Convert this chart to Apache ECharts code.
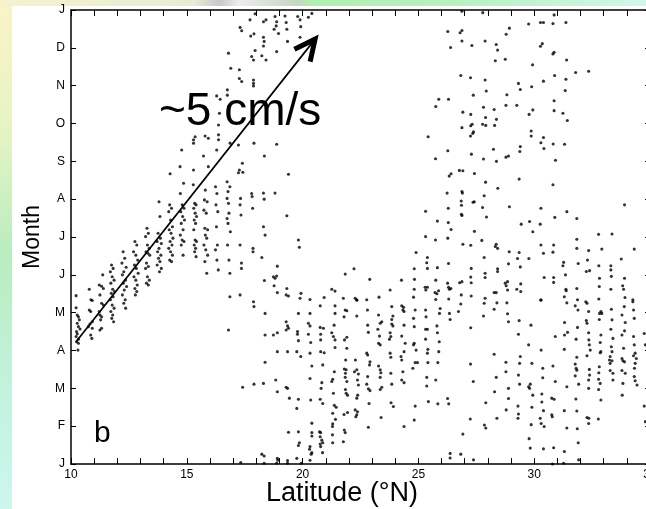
<!DOCTYPE html>
<html>
<head>
<meta charset="utf-8">
<script src="https://cdn.jsdelivr.net/npm/echarts@6/dist/echarts.min.js"></script>
<style>
  html, body { margin: 0; padding: 0; background: #fff; }
  #chart { width: 646px; height: 509px; }
</style>
</head>
<body>
<div id="chart"></div>
<script>
// Month tick labels (0 = 1 Jan ... 12 = next 1 Jan) and labelled latitudes
const monthLabels = ['J', 'F', 'M', 'A', 'M', 'J', 'J', 'A', 'S', 'O', 'N', 'D', 'J'];
const latLabels = [10, 15, 20, 25, 30, 35];

// Each point: [latitude °N, month]
// Northward-moving band, 10-18 °N
const springBand = [
  [10.22,4.45],[10.22,4.13],[10.27,3.94],[10.32,3.89],[10.36,3.81],[10.27,3.72],[10.32,3.63],[10.39,3.57],[10.24,3.50],[10.27,3.44],[10.22,3.37],[10.32,3.30],[10.24,3.23],[10.32,3.19],[10.30,3.01],
  [10.79,4.62],[10.86,4.34],[10.92,4.32],[10.79,4.07],[10.85,4.03],[10.92,3.76],[10.82,3.70],[10.75,3.63],[10.92,3.59],[10.85,3.41],[10.90,3.32],
  [11.37,5.00],[11.22,4.73],[11.32,4.70],[11.40,4.64],[11.25,4.47],[11.32,4.25],[11.40,4.20],[11.22,4.03],[11.25,3.94],[11.32,3.89],[11.28,3.81],[11.32,3.59],[11.25,3.54],
  [11.75,5.26],[11.82,5.17],[11.70,5.08],[11.78,4.95],[11.86,4.86],[11.72,4.78],[11.80,4.62],[11.88,4.56],[11.74,4.51],[11.82,4.42],[11.70,4.34],[11.78,4.20],[11.86,4.12],[11.72,4.03],[11.80,3.94],[11.76,3.85],[11.84,3.76],
  [12.25,5.61],[12.32,5.44],[12.20,5.31],[12.38,5.20],[12.28,5.08],[12.22,5.00],[12.35,4.86],[12.26,4.78],[12.40,4.69],[12.30,4.60],[12.22,4.47],[12.34,4.34],[12.28,4.25],[12.36,4.12],
  [12.76,5.88],[12.84,5.79],[12.70,5.61],[12.80,5.52],[12.88,5.39],[12.74,5.26],[12.82,5.17],[12.90,5.04],[12.72,4.95],[12.80,4.86],[12.86,4.73],[12.76,4.64],[12.84,4.56],[12.78,4.47],
  [13.28,6.23],[13.34,6.10],[13.22,6.01],[13.30,5.79],[13.38,5.70],[13.24,5.61],[13.32,5.57],[13.40,5.52],[13.26,5.31],[13.34,5.22],[13.22,5.17],[13.30,4.95],[13.38,4.86],[13.26,4.78],[13.34,4.73],
  [13.80,6.93],[13.84,6.54],[13.76,6.10],[13.86,5.97],[13.72,5.88],[13.90,5.83],[13.80,5.70],[13.74,5.61],[13.88,5.52],[13.78,5.44],[13.84,5.35],[13.72,5.26],[13.90,5.17],[13.82,5.08],
  [14.26,6.85],[14.34,6.76],[14.22,6.67],[14.30,6.45],[14.38,6.27],[14.24,6.19],[14.32,6.10],[14.40,5.97],[14.28,5.88],[14.36,5.79],[14.22,5.70],[14.30,5.61],[14.38,5.52],[14.26,5.39],[14.34,5.35],
  [14.86,7.42],[14.72,7.15],[14.80,6.85],[14.88,6.76],[14.74,6.67],[14.82,6.54],[14.90,6.45],[14.76,6.36],[14.84,6.19],[14.72,6.05],[14.80,5.92],[14.88,5.88],[14.76,5.79],[14.84,5.52],
  [15.28,7.38],[15.34,6.89],[15.40,6.85],[15.30,6.76],[15.36,6.63],[15.42,6.54],[15.32,6.45],[15.38,6.36],[15.30,6.19],[15.36,5.92],[15.42,5.88],[15.32,5.79],[15.38,5.70],[15.34,5.61],[15.40,5.48],
  [15.80,7.24],[15.76,6.98],[15.88,6.93],[15.74,6.71],[15.84,6.63],[15.78,6.23],[15.90,6.19],[15.80,6.05],[15.86,5.97],[15.74,5.79],[15.82,5.66],[15.90,5.52],[15.78,5.35],[15.86,5.04],
  [16.24,7.33],[16.30,7.15],[16.26,6.85],[16.34,6.67],[16.28,6.27],[16.32,5.79],[16.24,5.66],[16.30,5.39],[16.36,5.13],
  [16.74,7.46],[16.86,7.33],[16.78,7.20],[16.74,7.02],[16.80,6.89],[16.82,6.63],[16.74,6.49],[16.78,6.36],[16.88,6.14],[16.76,5.79],[16.82,5.39],[16.86,5.04],[16.86,4.42],[16.80,3.54],
  [17.32,7.02],[17.30,6.85],[17.34,6.58],[17.30,5.79],[17.36,5.31],[17.36,5.17],[17.30,4.47],
  [17.80,7.15],[17.82,7.07],[17.84,6.76],[17.86,5.70],[17.86,5.61],[17.88,4.29],[17.90,4.16]
];

// Late-summer to winter drift, 14-20 °N
const upperDrift = [
  [17.95,11.90],[18.31,11.69],[18.42,11.74],[18.81,11.83],[18.88,11.69],[18.86,11.58],[18.77,11.49],[18.96,11.38],
  [19.24,11.84],[19.29,11.67],[19.32,11.49],[19.35,11.17],[19.79,11.83],[19.89,11.74],[19.92,11.56],[19.89,11.28],
  [20.25,11.81],[20.40,11.91],[17.73,11.74],[17.30,11.54],[17.37,11.45],[17.76,11.31],[17.90,11.37],[18.31,11.28],
  [18.34,11.17],[18.31,11.05],[17.95,10.93],[17.80,10.77],[17.88,10.68],[18.24,10.79],[18.42,10.68],[18.88,10.90],
  [16.80,10.86],[16.90,10.46],[17.27,10.42],[17.27,10.19],[17.37,10.11],[17.88,10.15],[17.88,10.06],[17.88,9.99],
  [16.75,9.89],[16.75,9.75],[16.29,9.73],[16.44,9.64],[16.80,9.45],[16.41,9.27],[16.37,8.96],[16.37,8.70],
  [16.37,8.57],[16.29,8.30],[15.36,8.65],[15.29,8.57],[15.29,8.48],[15.79,8.67],[15.93,8.61],[15.72,8.14],
  [14.78,8.30],[14.71,7.86],[14.28,7.67],[15.29,7.77],[15.93,7.86],[16.87,8.48],[17.23,8.43],[17.90,8.48],
  [18.88,8.45],[18.35,8.14],[17.40,7.95],[17.27,7.77],[17.23,7.70],[17.42,7.71],[19.39,7.66],[18.31,7.16],
  [18.34,7.00],[18.81,7.16],[19.32,6.56],[18.31,6.27],[18.38,6.05],[19.82,5.92],[19.86,5.73]
];

// Second half of the year, 22-33 °N
const lateYearEast = [
  [26.88,11.97],[27.78,11.93],[29.76,11.63],[28.93,11.52],[28.79,11.36],[26.88,11.46],[26.80,11.40],[26.27,11.43],
  [26.88,11.18],[27.31,11.06],[27.88,11.18],[28.36,11.09],[28.42,10.94],[26.39,11.01],[28.32,10.66],[28.75,10.70],
  [26.83,10.27],[27.25,10.21],[27.88,10.15],[29.32,10.06],[29.40,9.90],[27.93,9.86],[28.82,9.76],[27.37,9.75],
  [25.88,9.64],[26.30,9.64],[25.75,9.45],[27.81,9.43],[28.27,9.37],[28.78,9.48],[29.25,9.48],[29.78,9.24],
  [26.92,9.30],[27.26,9.24],[27.90,9.16],[28.37,9.11],[26.88,8.89],[27.26,8.94],[27.32,8.98],[27.77,8.98],
  [27.91,8.95],[28.29,8.95],[27.38,8.78],[27.35,8.74],[27.25,8.67],[25.42,8.65],[26.27,8.28],[25.74,8.07],
  [27.29,8.19],[27.81,8.06],[28.24,8.32],[28.37,8.00],[28.78,8.11],[28.89,8.14],[29.40,8.39],[29.38,8.26],
  [26.77,7.76],[26.92,7.75],[26.33,7.61],[26.41,7.67],[27.42,7.68],[27.90,7.45],[28.43,7.29],[29.35,7.53],
  [26.24,7.16],[26.88,7.20],[26.90,7.16],[27.84,7.09],[26.85,6.95],[27.36,6.92],[27.41,6.93],[26.86,6.84],
  [26.29,6.76],[27.77,6.78],[28.93,6.80],[25.31,6.68],[26.86,6.60],[26.88,6.57],[27.94,6.53],[25.82,6.42],
  [26.29,6.38],[26.41,6.20],[29.44,6.34],[29.80,6.41],[27.42,6.15],[25.31,6.01],[25.74,5.92],[26.27,5.97],
  [26.92,5.81],[27.26,5.78],[27.74,5.91],[28.36,5.81],[28.32,5.75],[28.42,5.70],[28.92,5.61],[29.35,5.59],
  [24.90,5.59],[25.39,5.46],[25.36,5.32],[27.84,5.46],[29.28,5.43],[29.77,5.43],[24.82,5.16],[25.39,5.17],
  [25.82,5.19],[26.30,5.30],[27.28,5.17],[28.42,5.16],[28.89,5.29],[29.40,5.21],[22.22,5.16],
  [30.86,11.87],[31.37,11.67],[30.81,11.64],[30.40,11.67],[30.27,11.67],[30.35,11.11],[30.27,11.04],[30.86,10.88],
  [30.81,10.84],[31.40,10.68],[29.93,10.55],[31.79,10.35],[32.35,10.38],[30.88,10.27],[31.37,10.17],[30.40,10.12],
  [29.89,9.97],[31.34,9.87],[30.86,9.60],[29.94,9.36],[30.86,9.34],[31.24,9.27],[31.43,9.08],[29.87,8.80],
  [29.87,8.67],[30.40,8.63],[30.29,8.49],[30.82,8.46],[31.31,8.45],[30.42,8.34],[30.92,8.03],[30.81,7.38]
];

// Late spring to summer, 25-35 °N
const summerEast = [
  [25.29,4.67],[25.32,4.60],[25.39,4.67],[25.75,4.86],[25.72,4.53],[25.80,4.50],[25.87,4.58],[25.75,4.35],
  [26.26,4.78],[26.30,4.67],[26.34,4.62],[26.40,4.64],[26.31,4.36],[26.85,4.47],[26.78,4.79],[26.88,4.82],
  [27.26,4.94],[27.28,4.79],[27.28,4.44],[27.88,5.04],[27.88,4.93],[27.88,4.38],[28.42,5.09],[28.27,4.53],
  [28.36,4.53],[28.75,4.78],[28.79,4.71],[28.85,4.82],[28.85,4.60],[29.25,4.62],[29.42,4.76],[29.42,4.56],
  [30.29,6.76],[30.89,6.52],[31.41,6.67],[31.84,6.49],[30.26,6.34],[29.94,6.14],[30.29,5.79],[30.40,5.57],
  [30.84,5.79],[30.81,5.60],[31.84,5.94],[31.84,5.70],[32.78,6.07],[33.36,6.08],[32.92,5.68],[32.35,5.64],
  [32.30,5.39],[32.25,5.09],[32.39,5.11],[32.79,5.24],[32.82,4.91],[32.81,4.69],[32.79,4.36],[33.31,5.24],
  [33.31,5.13],[33.33,4.96],[33.31,4.62],[33.76,5.42],[33.90,4.91],[33.82,4.71],[33.86,4.62],[33.92,4.40],
  [34.32,5.68],[34.26,4.34],[30.29,4.34],[30.43,4.93],[30.84,4.93],[30.84,4.80],[31.27,5.33],[31.24,5.24],
  [31.35,5.00],[31.37,4.62],[31.30,4.42],[31.38,4.58],[31.84,4.64],[31.87,4.34],[31.90,5.30],[33.90,6.85]
];

// April-May, 18-25 °N
const midSpring = [
  [18.24,5.46],[18.91,5.23],[18.74,4.95],[18.88,4.97],[18.81,4.91],[18.35,4.85],[18.77,4.71],[18.91,4.53],
  [19.32,4.64],[19.29,4.47],[19.39,4.44],[19.93,4.51],[19.89,4.38],[20.32,4.35],[20.93,4.40],[21.26,4.62],
  [21.40,4.57],[21.76,4.38],[22.27,4.38],[22.34,4.34],[22.77,4.34],[23.30,4.41],[23.78,4.60],[24.27,4.86],
  [22.90,4.88],[21.84,5.02],[24.83,4.88],[24.79,4.41],[24.82,4.62]
];

// Winter to early spring, 17-26 °N
const winterCentral = [
  [18.38,3.98],[18.38,3.41],[18.74,3.41],[18.91,3.47],[19.29,3.76],[19.35,3.65],[19.39,3.59],[19.29,3.54],
  [19.78,3.50],[19.78,3.43],[19.82,3.26],[19.82,3.98],[20.25,3.72],[20.32,3.65],[20.32,3.98],[20.25,3.43],
  [20.35,3.21],[20.76,3.61],[20.90,3.59],[20.78,3.43],[20.78,3.28],[20.76,4.18],[21.40,4.18],[21.40,3.98],
  [21.36,3.67],[21.26,3.47],[21.33,3.37],[21.40,3.28],[21.40,3.08],[21.84,4.07],[21.91,4.05],[21.79,3.89],
  [22.34,3.91],[22.34,4.33],[22.80,4.07],[22.81,3.67],[22.84,3.48],[23.28,3.94],[23.35,3.72],[23.42,3.76],
  [23.25,3.56],[23.32,3.38],[23.28,3.19],[23.35,3.15],[23.85,4.16],[23.90,3.91],[23.85,3.82],[23.85,3.70],
  [23.90,3.65],[23.78,3.47],[23.81,3.37],[23.75,3.30],[23.78,2.93],[23.81,2.82],[24.28,4.18],[24.33,4.07],
  [24.38,4.03],[24.36,4.14],[24.38,3.67],[24.28,3.38],[24.43,3.19],[24.38,2.97],[24.28,2.75],[24.25,2.84],
  [24.86,4.07],[24.79,3.85],[24.82,3.63],[24.79,3.15],[24.82,3.19],[24.90,3.01],[24.76,2.53],[24.86,2.68],
  [24.96,2.68],[25.31,4.07],[25.33,3.89],[25.39,3.56],[25.31,3.56],[25.31,3.30],[25.41,3.03],[25.39,2.93],
  [25.41,2.68],[25.36,2.29],[25.36,2.06],[25.80,3.65],[25.82,3.47],[25.91,3.98],[25.94,4.11],[25.90,3.23],
  [25.88,2.97],[25.84,2.68],[25.75,2.22],[25.43,1.65],[25.84,1.59],
  [21.91,3.35],[21.81,3.28],[21.91,3.06],[21.86,2.75],[21.80,2.51],[21.88,2.49],[21.85,2.40],[21.84,2.29],
  [21.91,2.18],[21.85,1.97],[21.88,1.87],[21.94,1.82],
  [22.28,2.75],[22.24,2.44],[22.34,2.49],[22.41,2.38],[22.37,2.22],[22.41,2.09],[22.34,1.74],[22.38,1.82],
  [22.77,2.93],[22.81,2.88],[22.91,2.70],[22.89,2.62],[22.81,2.31],[22.77,2.11],[22.84,1.99],[22.91,1.94],[22.87,1.60],
  [23.28,2.59],[23.35,2.49],[23.38,2.41],[23.35,2.29],[23.42,2.03],[23.35,1.97],
  [23.81,2.40],[23.85,2.11],[23.82,1.62],[23.92,1.52],[24.28,2.22],[24.38,2.15],[24.33,2.44],
  [24.86,1.53],[24.82,1.16],[24.38,0.99],[23.39,1.23],[22.84,0.97],
  [21.37,2.44],[21.26,2.18],[21.30,2.24],[21.33,1.87],[21.37,1.55],[21.45,1.50],[21.30,1.34],[21.42,1.18],
  [21.30,1.06],[21.29,0.99],[21.29,0.77],[21.30,0.56],
  [21.79,1.31],[21.94,1.36],[21.80,0.90],[21.84,0.83],[21.76,0.59],
  [22.27,1.43],[22.34,1.30],[22.30,1.25],[22.37,1.38],
  [20.78,2.97],[20.93,2.94],[20.87,2.62],[20.83,2.15],[20.80,2.00],[20.76,1.71],[20.87,1.60],
  [20.32,2.93],[20.40,2.59],[20.32,2.26],[20.35,1.69],
  [19.92,2.84],[19.82,1.71],[19.75,1.47],[19.43,1.74],[19.35,2.00],[19.29,2.03],[18.91,1.91],[18.84,2.22],
  [18.31,2.13],[17.90,2.11],[17.41,2.03],[18.38,2.69],[19.75,2.97],[19.35,2.97],[18.91,2.97],
  [19.39,0.84],[19.82,0.85],[19.86,0.56],[19.82,0.49],[19.75,0.15],[19.94,0.02],[19.35,0.09],[19.35,0.02],
  [18.91,0.15],[18.93,0.10],[18.88,0.02],[18.34,0.02],[18.34,0.21],[18.24,0.26],[17.33,0.04],
  [20.40,1.08],[20.40,0.83],[20.40,0.74],[20.32,0.46],[20.30,0.39],[20.40,0.30],[20.37,0.26],[20.32,0.10],
  [20.78,0.83],[20.76,0.72],[20.83,0.63],[20.76,0.53],[20.87,0.56],[20.78,0.46],[20.86,0.30],[20.73,0.85]
];

// Winter to early spring, 26-35 °N
const winterEast = [
  [26.34,3.98],[26.37,3.82],[26.73,4.03],[26.83,4.23],
  [27.26,3.60],[27.25,2.64],[27.37,2.18],[27.24,1.19],[26.92,0.79],[26.37,0.28],[26.37,0.16],[26.83,0.26],[27.38,0.11],
  [26.26,1.73],[26.31,1.59],
  [27.84,4.25],[27.81,3.91],[28.27,4.09],[28.39,4.26],[28.82,4.26],[28.85,3.97],[28.89,3.76],[29.35,3.79],
  [29.32,3.43],[29.86,3.67],[29.76,3.15],[30.30,3.01],[30.29,4.33],
  [28.27,2.90],[28.78,2.69],[28.78,2.44],[28.36,2.29],[28.29,1.91],[27.91,1.62],[28.39,1.21],[27.85,1.03],[27.91,0.95],
  [28.89,2.00],[28.89,1.73],[28.79,1.43],[29.30,1.53],[29.32,1.32],[29.30,1.21],[29.40,2.84],[29.37,2.66],
  [29.32,2.35],[29.37,2.11],[29.83,2.11],[29.76,2.04],[29.80,2.00],[29.90,2.66],[29.94,1.82],[29.90,1.50],
  [29.87,1.04],[29.78,0.67],[29.83,0.42],
  [30.37,2.53],[30.37,2.28],[30.33,1.85],[30.33,1.64],[30.40,1.41],[30.26,1.21],[30.30,1.07],[30.43,0.99],
  [30.40,0.40],[30.81,2.59],[30.91,2.18],[30.76,1.74],[30.86,1.71],[30.76,1.30],[30.78,1.25],[30.84,0.43],
  [30.79,0.00],[31.30,0.33],[31.27,0.02],
  [30.91,3.37],[31.31,3.41],[31.44,3.48],[31.30,3.03],[31.31,3.74],[31.41,4.26],[31.77,4.18],[31.89,4.07],
  [31.87,3.61],[31.81,3.30],[31.84,2.82],[31.77,2.64],[31.81,2.53],[31.84,2.48],[31.77,2.33],[31.92,2.11],
  [31.41,2.04],[31.80,1.72],[31.84,1.40],[31.30,1.41],[31.41,0.95],[31.86,0.93],[31.90,0.56],[31.92,0.11],
  [32.23,4.29],[32.28,4.25],[32.35,4.03],[32.25,3.79],[32.28,3.72],[32.35,3.47],[32.36,3.28],[32.38,3.15],
  [32.42,3.01],[32.28,2.86],[32.38,2.50],[32.39,2.35],[32.35,2.22],[32.35,2.00],[32.28,1.23],[32.36,1.21],[32.35,1.07],
  [32.82,3.98],[32.92,3.98],[32.81,3.82],[32.88,4.03],[32.88,3.41],[32.85,3.21],[32.88,2.97],[32.85,2.94],
  [32.81,2.57],[32.79,2.41],[32.78,2.24],[32.85,2.13],[32.78,1.97],[32.88,1.69],[32.77,1.19],
  [33.33,4.09],[33.36,3.81],[33.31,3.56],[33.40,3.32],[33.33,3.10],[33.36,2.97],[33.28,2.84],[33.25,2.75],
  [33.36,2.73],[33.28,2.66],[33.28,2.47],[33.40,2.40],[33.40,2.22],
  [33.79,3.94],[33.89,4.16],[33.93,3.74],[33.79,3.41],[33.90,3.52],[33.86,3.06],[33.79,2.79],[33.83,2.73],
  [33.90,2.70],[33.79,2.47],[33.93,2.40],[33.83,2.13],[33.80,1.82],
  [34.26,4.29],[34.29,4.07],[34.32,3.85],[34.29,3.37],[34.32,3.15],[34.36,2.93],[34.29,2.86],[34.41,2.79],
  [34.36,2.66],[34.33,2.53],[34.32,2.31],[34.36,2.20],[34.44,2.09],
  [34.75,3.45],[34.80,3.15],[34.75,1.53],[34.80,1.12]
];

// Propagation arrow: start and tip, [latitude, month]
const arrowFrom = [10.22, 3.23];
const arrowTo = [20.54, 11.23];

const FONT = '"Liberation Sans", Arial, Helvetica, sans-serif';
const chart = echarts.init(document.getElementById('chart'), null, { renderer: 'canvas' });

const axisLineStyle = { color: '#000', width: 1.5 };
const tickStyle = { color: '#000', width: 1 };

function dots(data) {
  return {
    type: 'scatter',
    data: data,
    symbol: 'circle',
    symbolSize: 3.1,
    itemStyle: { color: '#000' },
    silent: true,
    z: 3
  };
}

function drawArrow(params, api) {
  const a = api.coord([api.value(0), api.value(1)]);
  const b = api.coord([api.value(2), api.value(3)]);
  const back = Math.atan2(a[1] - b[1], a[0] - b[0]);
  const len = 23, spread = 0.45;
  const p1 = [b[0] + len * Math.cos(back + spread), b[1] + len * Math.sin(back + spread)];
  const p2 = [b[0] + len * Math.cos(back - spread), b[1] + len * Math.sin(back - spread)];
  return {
    type: 'group',
    children: [
      { type: 'line', shape: { x1: a[0], y1: a[1], x2: b[0], y2: b[1] },
        style: { stroke: '#000', lineWidth: 1.7 } },
      { type: 'polyline', shape: { points: [p1, b, p2] },
        style: { stroke: '#000', fill: null, lineWidth: 5, lineJoin: 'miter', lineCap: 'butt' } }
    ]
  };
}

const option = {
  backgroundColor: '#fff',
  animation: false,
  graphic: [
    { type: 'rect', z: -10, silent: true,
      shape: { x: 0, y: 0, width: 12, height: 509 },
      style: { fill: { type: 'linear', x: 0, y: 0, x2: 0, y2: 1, colorStops: [
        { offset: 0, color: '#fbf3c6' }, { offset: 0.25, color: '#e6f4c4' },
        { offset: 0.5, color: '#b9ecbe' }, { offset: 0.75, color: '#c2f2dc' },
        { offset: 1, color: '#cdf6ee' } ] } } },
    { type: 'rect', z: -10, silent: true,
      shape: { x: 0, y: 0, width: 646, height: 6 },
      style: { fill: { type: 'linear', x: 0, y: 0, x2: 1, y2: 0, colorStops: [
        { offset: 0, color: '#f6f2cf' }, { offset: 0.3, color: '#e6ecd6' },
        { offset: 0.34, color: '#c8c8c8' }, { offset: 0.37, color: '#ededed' },
        { offset: 0.46, color: '#c4d8c0' }, { offset: 0.48, color: '#b2eeb0' },
        { offset: 0.7, color: '#b8f0c0' }, { offset: 1, color: '#d2f7ea' } ] } } },
    { type: 'text', z: 100, silent: true,
      style: { text: '~5 cm/s', x: 159, y: 112, font: '46px ' + FONT, fill: '#000',
               textAlign: 'left', textVerticalAlign: 'middle' } },
    { type: 'text', z: 100, silent: true,
      style: { text: 'b', x: 94, y: 434, font: '30px ' + FONT, fill: '#000',
               textAlign: 'left', textVerticalAlign: 'middle' } },
    { type: 'text', z: 100, silent: true,
      style: { text: 'Latitude (°N)', x: 342, y: 494, font: '27px ' + FONT, fill: '#000',
               textAlign: 'center', textVerticalAlign: 'middle' } }
  ],
  grid: { left: 71, top: 10, width: 579, height: 454, outerBoundsMode: 'none' },
  xAxis: [
    { type: 'value', min: 10, max: 35, interval: 1, position: 'bottom',
      axisLine: { onZero: false, lineStyle: axisLineStyle },
      axisTick: { inside: true, length: 6, lineStyle: tickStyle },
      axisLabel: { margin: 5, fontFamily: FONT, fontSize: 12, color: '#000',
                   showMinLabel: true, showMaxLabel: true,
                   formatter: v => latLabels.indexOf(v) >= 0 ? String(v) : '' },
      splitLine: { show: false } },
    { type: 'value', min: 10, max: 35, interval: 1, position: 'top',
      axisLine: { onZero: false, lineStyle: axisLineStyle },
      axisTick: { inside: true, length: 6, lineStyle: tickStyle },
      axisLabel: { show: false }, splitLine: { show: false } }
  ],
  yAxis: [
    { type: 'value', min: 0, max: 12, interval: 1, position: 'left',
      axisLine: { onZero: false, lineStyle: axisLineStyle },
      axisTick: { inside: true, length: 5, lineStyle: tickStyle },
      axisLabel: { margin: 6, fontFamily: FONT, fontSize: 12, color: '#000',
                   formatter: v => monthLabels[v] },
      splitLine: { show: false },
      name: 'Month', nameLocation: 'middle', nameGap: 25, nameRotate: 90,
      nameTextStyle: { fontFamily: FONT, fontSize: 23, color: '#000' } },
    { type: 'value', min: 0, max: 12, interval: 1, position: 'right',
      axisLine: { onZero: false, lineStyle: axisLineStyle },
      axisTick: { inside: true, length: 5, lineStyle: tickStyle },
      axisLabel: { show: false }, splitLine: { show: false } }
  ],
  series: [
    dots(springBand),
    dots(upperDrift),
    dots(lateYearEast),
    dots(summerEast),
    dots(midSpring),
    dots(winterCentral),
    dots(winterEast),
    { type: 'custom', renderItem: drawArrow, silent: true, z: 5,
      encode: { x: [0, 2], y: [1, 3] },
      data: [[arrowFrom[0], arrowFrom[1], arrowTo[0], arrowTo[1]]] }
  ]
};

chart.setOption(option);
</script>
</body>
</html>
